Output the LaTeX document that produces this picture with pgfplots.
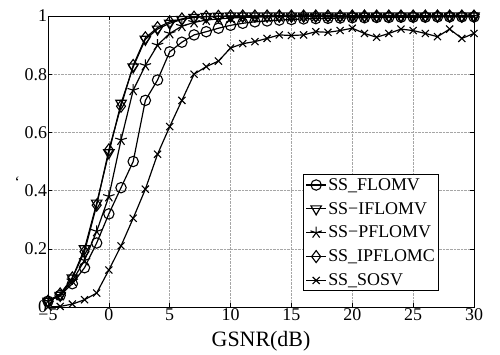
\documentclass[border=0pt]{standalone}
\usepackage{pgfplots}
\pgfplotsset{compat=1.18}
\usepackage{fontspec}
\setmainfont{Liberation Serif}
\begin{document}
\begin{tikzpicture}
\begin{axis}[
  at={(0,0)}, anchor=south west,
  scale only axis, width=426bp, height=291bp,
  xmin=-5, xmax=30, ymin=0, ymax=1,
  xtick={-5,0,5,10,15,20,25,30},
  xticklabels={−5,0,5,10,15,20,25,30},
  ytick={0,0.2,0.4,0.6,0.8,1},
  yticklabels={0,0.2,0.4,0.6,0.8,1},
  tick align=inside, tick pos=both,
  major tick length=4bp,
  grid=major,
  major grid style={densely dotted, gray!70, line width=0.5pt},
  axis line style={line width=0.9pt},
  tick style={line width=0.6pt, black},
  ticklabel style={font=\fontsize{18}{20}\selectfont},
  xticklabel style={yshift=2bp},
  yticklabel style={xshift=2.5bp},
  xlabel={GSNR(dB)},
  xlabel style={font=\fontsize{22}{24}\selectfont, yshift=-4bp},
  clip=false,
  every axis plot/.append style={black, line width=1.2pt, mark options={solid, line width=1.1pt}},
  legend style={at={(0.599,0.055)}, anchor=south west,
    nodes={font=\fontsize{18}{20}\selectfont, inner sep=1.5pt},
    draw=black, line width=0.8pt, inner sep=2pt, row sep=7.5bp},
  legend cell align=left,
  legend image code/.code={
    \draw[mark repeat=2,mark phase=2,#1] plot coordinates {(0bp,0bp) (10bp,0bp) (20bp,0bp)};
  },
]
% SS_FLOMV
\addplot[mark=o, mark size=5.2bp] coordinates {
(-5,0.02) (-4,0.04) (-3,0.08) (-2,0.135) (-1,0.22) (0,0.32) (1,0.41) (2,0.50) (3,0.71) (4,0.78)
(5,0.877) (6,0.91) (7,0.935) (8,0.946) (9,0.958) (10,0.968) (11,0.975) (12,0.98) (13,0.983) (14,0.986)
(15,0.988) (16,0.99) (17,0.991) (18,0.992) (19,0.993) (20,0.994) (21,0.994) (22,0.995) (23,0.995) (24,0.996)
(25,0.996) (26,0.996) (27,0.997) (28,0.997) (29,0.997) (30,0.997)};
% SS-IFLOMV
\addplot[mark=triangle, mark size=6bp, mark options={rotate=180}] coordinates {
(-5,0.02) (-4,0.04) (-3,0.10) (-2,0.20) (-1,0.357) (0,0.53) (1,0.70) (2,0.825) (3,0.92) (4,0.955)
(5,0.975) (6,0.988) (7,0.995) (8,0.998) (9,0.999) (10,1) (11,1) (12,1) (13,1) (14,1)
(15,1) (16,1) (17,1) (18,1) (19,1) (20,1) (21,1) (22,1) (23,1) (24,1)
(25,1) (26,1) (27,1) (28,1) (29,1) (30,1)};
% SS-PFLOMV
\addplot[mark=star, mark size=6bp] coordinates {
(-5,0.02) (-4,0.04) (-3,0.09) (-2,0.16) (-1,0.26) (0,0.38) (1,0.574) (2,0.745) (3,0.83) (4,0.90)
(5,0.94) (6,0.965) (7,0.978) (8,0.986) (9,0.99) (10,0.993) (11,0.995) (12,0.996) (13,0.997) (14,0.998)
(15,0.998) (16,0.999) (17,0.999) (18,0.999) (19,0.999) (20,1) (21,1) (22,1) (23,1) (24,1)
(25,1) (26,1) (27,1) (28,1) (29,1) (30,1)};
% SS_IPFLOMC
\addplot[mark=diamond, mark size=6bp] coordinates {
(-5,0.02) (-4,0.045) (-3,0.10) (-2,0.19) (-1,0.35) (0,0.54) (1,0.69) (2,0.83) (3,0.925) (4,0.96)
(5,0.98) (6,0.99) (7,0.996) (8,0.998) (9,0.999) (10,1) (11,1) (12,1) (13,1) (14,1)
(15,1) (16,1) (17,1) (18,1) (19,1) (20,1) (21,1) (22,1) (23,1) (24,1)
(25,1) (26,1) (27,1) (28,1) (29,1) (30,1)};
% SS_SOSV
\addplot[mark=x, mark size=5bp] coordinates {
(-5,0.0) (-4,0.002) (-3,0.01) (-2,0.025) (-1,0.048) (0,0.127) (1,0.21) (2,0.305) (3,0.405) (4,0.525)
(5,0.62) (6,0.71) (7,0.80) (8,0.826) (9,0.845) (10,0.89) (11,0.905) (12,0.912) (13,0.923) (14,0.935)
(15,0.933) (16,0.935) (17,0.946) (18,0.944) (19,0.95) (20,0.958) (21,0.94) (22,0.927) (23,0.94) (24,0.955)
(25,0.95) (26,0.94) (27,0.929) (28,0.955) (29,0.923) (30,0.94)};
\legend{SS\_FLOMV, SS−IFLOMV, SS−PFLOMV, SS\_IPFLOMC, SS\_SOSV}
\node[font=\fontsize{16}{16}\selectfont, inner sep=0pt] at (rel axis cs:-0.072,0.43) {`};
\end{axis}
\path (-48bp,-45bp) rectangle (452bp,307bp);
\end{tikzpicture}
\end{document}
